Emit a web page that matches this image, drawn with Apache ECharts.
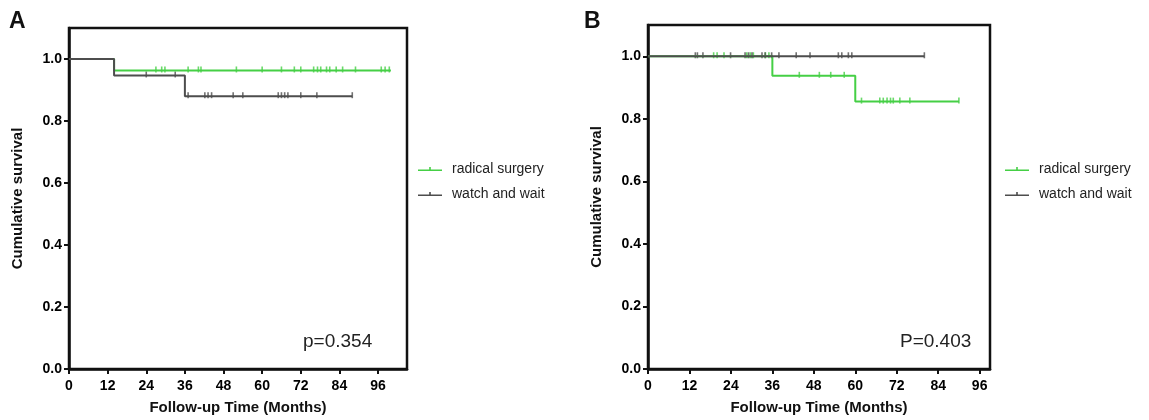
<!DOCTYPE html>
<html lang="en">
<head>
	<meta charset="UTF-8">
	<title>Cumulative survival</title>
	<style>
		html,body{margin:0;padding:0;background:#fff;}
		#chart{width:1149px;height:420px;}
	</style>
</head>
<body>
<div id="chart"></div>
<script src="https://cdn.jsdelivr.net/npm/echarts@6/dist/echarts.min.js"></script>
<script>
	// 生存曲线数据 (月份, 累计生存率)
	var seriesNames = ['radical surgery', 'watch and wait'];
	var xTicks = [0, 12, 24, 36, 48, 60, 72, 84, 96];
	var yTicks = [0, 0.2, 0.4, 0.6, 0.8, 1.0];

	// A
	var aSurgTime = [0, 14, 100];
	var aSurgSurv = [1, 0.963, 0.963];
	var aSurgCens = [27, 28.8, 29.8, 37, 40.2, 41, 52, 60, 66, 70, 72, 76, 77.2, 78.2, 80, 81, 83, 85, 89, 97, 98.2, 99.5];
	var aWaitTime = [0, 14, 36, 88];
	var aWaitSurv = [1, 0.947, 0.88, 0.88];
	var aWaitCens = [24, 33, 37, 42.2, 43.2, 44.3, 51, 54, 65, 66, 67, 68, 72, 77, 88];

	// B
	var bSurgTime = [0, 36, 60, 90];
	var bSurgSurv = [1, 0.9375, 0.855, 0.855];
	var bSurgCens = [19, 20, 22, 28.6, 29.6, 30.5, 34, 35, 43.8, 49.6, 52.9, 56.8, 61.8, 67.1, 68.1, 69.2, 70.2, 71, 72.9, 75.8, 90];
	var bWaitTime = [0, 80];
	var bWaitSurv = [1, 1];
	var bWaitCens = [13.7, 14.3, 15.9, 23.9, 28.1, 29.1, 30.1, 33, 33.9, 35.8, 37.9, 42.9, 46.9, 55.1, 56.1, 58, 59, 80];

	var pTexts = ['p=0.354', 'P=0.403'];

	var green = '#45cf45';
	var grey = '#4d4d4d';
	var font = '"Liberation Sans", Arial, sans-serif';

	function zip(t, s){
		var out = [];
		for(var i = 0; i < t.length; i++){
			out.push([t[i], s[i]]);
		}
		return out;
	}
	// 删失点取所在台阶的生存率
	function censPoints(cens, t, s){
		var out = [];
		for(var i = 0; i < cens.length; i++){
			var v = s[0];
			for(var j = 0; j < t.length; j++){
				if(t[j] <= cens[i]) v = s[j];
			}
			out.push([cens[i], v]);
		}
		return out;
	}

	function xAxisFor(idx, max){
		return {
			gridIndex: idx,
			type: 'value',
			min: 0,
			max: max,
			name: 'Follow-up Time (Months)',
			nameLocation: 'middle',
			nameGap: 31,
			nameTextStyle: {fontFamily: font, fontWeight: 'bold', fontSize: 15, color: '#111'},
			axisLine: {show: true, onZero: false, lineStyle: {color: '#111', width: 2.5}},
			axisTick: {show: true, length: 5, customValues: xTicks, lineStyle: {color: '#111', width: 2}},
			axisLabel: {customValues: xTicks, margin: 10, fontFamily: font, fontWeight: 'bold', fontSize: 14, color: '#000'},
			splitLine: {show: false}
		};
	}
	function yAxisFor(idx){
		return {
			gridIndex: idx,
			type: 'value',
			min: 0,
			max: 1.1,
			name: 'Cumulative survival',
			nameLocation: 'middle',
			nameGap: 44,
			nameTextStyle: {fontFamily: font, fontWeight: 'bold', fontSize: 15, color: '#111'},
			axisLine: {show: true, lineStyle: {color: '#111', width: 2.5}},
			axisTick: {show: true, length: 5, customValues: yTicks, lineStyle: {color: '#111', width: 2}},
			axisLabel: {
				customValues: yTicks, margin: 7, fontFamily: font, fontWeight: 'bold', fontSize: 14, color: '#000',
				formatter: function(v){ return v.toFixed(1); }
			},
			splitLine: {show: false}
		};
	}
	function curve(name, color, idx, data){
		return {
			name: name, type: 'line', step: 'end', xAxisIndex: idx, yAxisIndex: idx,
			data: data, showSymbol: false, silent: true,
			lineStyle: {color: color, width: 2}, itemStyle: {color: color}
		};
	}
	function marks(name, color, idx, data){
		return {
			name: name, type: 'scatter', xAxisIndex: idx, yAxisIndex: idx,
			data: data, symbol: 'rect', symbolSize: [1.6, 6], symbolOffset: [0, -1], silent: true,
			itemStyle: {color: color}
		};
	}
	var legendIcon = 'path://M0,4h24v1.6h-24z M11.2,1.5h1.6v4h-1.6z';
	function legendFor(left){
		return {
			left: left, top: 157, orient: 'vertical', itemWidth: 24, itemHeight: 8, itemGap: 11,
			icon: legendIcon, selectedMode: false,
			data: seriesNames,
			textStyle: {fontFamily: font, fontSize: 14, color: '#222', padding: [0, 0, 0, 5]}
		};
	}

	var chart = echarts.init(document.getElementById('chart'));
	chart.setOption({
		animation: false,
		grid: [
			{left: 69, top: 28, width: 338, height: 343, show: true, borderColor: '#111', borderWidth: 2.5},
			{left: 648, top: 25, width: 342, height: 347, show: true, borderColor: '#111', borderWidth: 2.5}
		],
		xAxis: [xAxisFor(0, 105), xAxisFor(1, 99)],
		yAxis: [yAxisFor(0), yAxisFor(1)],
		legend: [legendFor(413), legendFor(1000)],
		series: [
			curve(seriesNames[0], green, 0, zip(aSurgTime, aSurgSurv)),
			marks(seriesNames[0], green, 0, censPoints(aSurgCens, aSurgTime, aSurgSurv)),
			curve(seriesNames[1], grey, 0, zip(aWaitTime, aWaitSurv)),
			marks(seriesNames[1], grey, 0, censPoints(aWaitCens, aWaitTime, aWaitSurv)),
			curve(seriesNames[0], green, 1, zip(bSurgTime, bSurgSurv)),
			marks(seriesNames[0], green, 1, censPoints(bSurgCens, bSurgTime, bSurgSurv)),
			curve(seriesNames[1], grey, 1, zip(bWaitTime, bWaitSurv)),
			marks(seriesNames[1], grey, 1, censPoints(bWaitCens, bWaitTime, bWaitSurv))
		],
		graphic: [
			{type: 'text', left: 9, top: 10, style: {text: 'A', font: 'bold 23px ' + font, fill: '#111'}},
			{type: 'text', left: 584, top: 10, style: {text: 'B', font: 'bold 23px ' + font, fill: '#111'}},
			{type: 'text', left: 303, top: 332, style: {text: pTexts[0], font: '19px ' + font, fill: '#222'}},
			{type: 'text', left: 900, top: 332, style: {text: pTexts[1], font: '19px ' + font, fill: '#222'}}
		]
	});
</script>
</body>
</html>
